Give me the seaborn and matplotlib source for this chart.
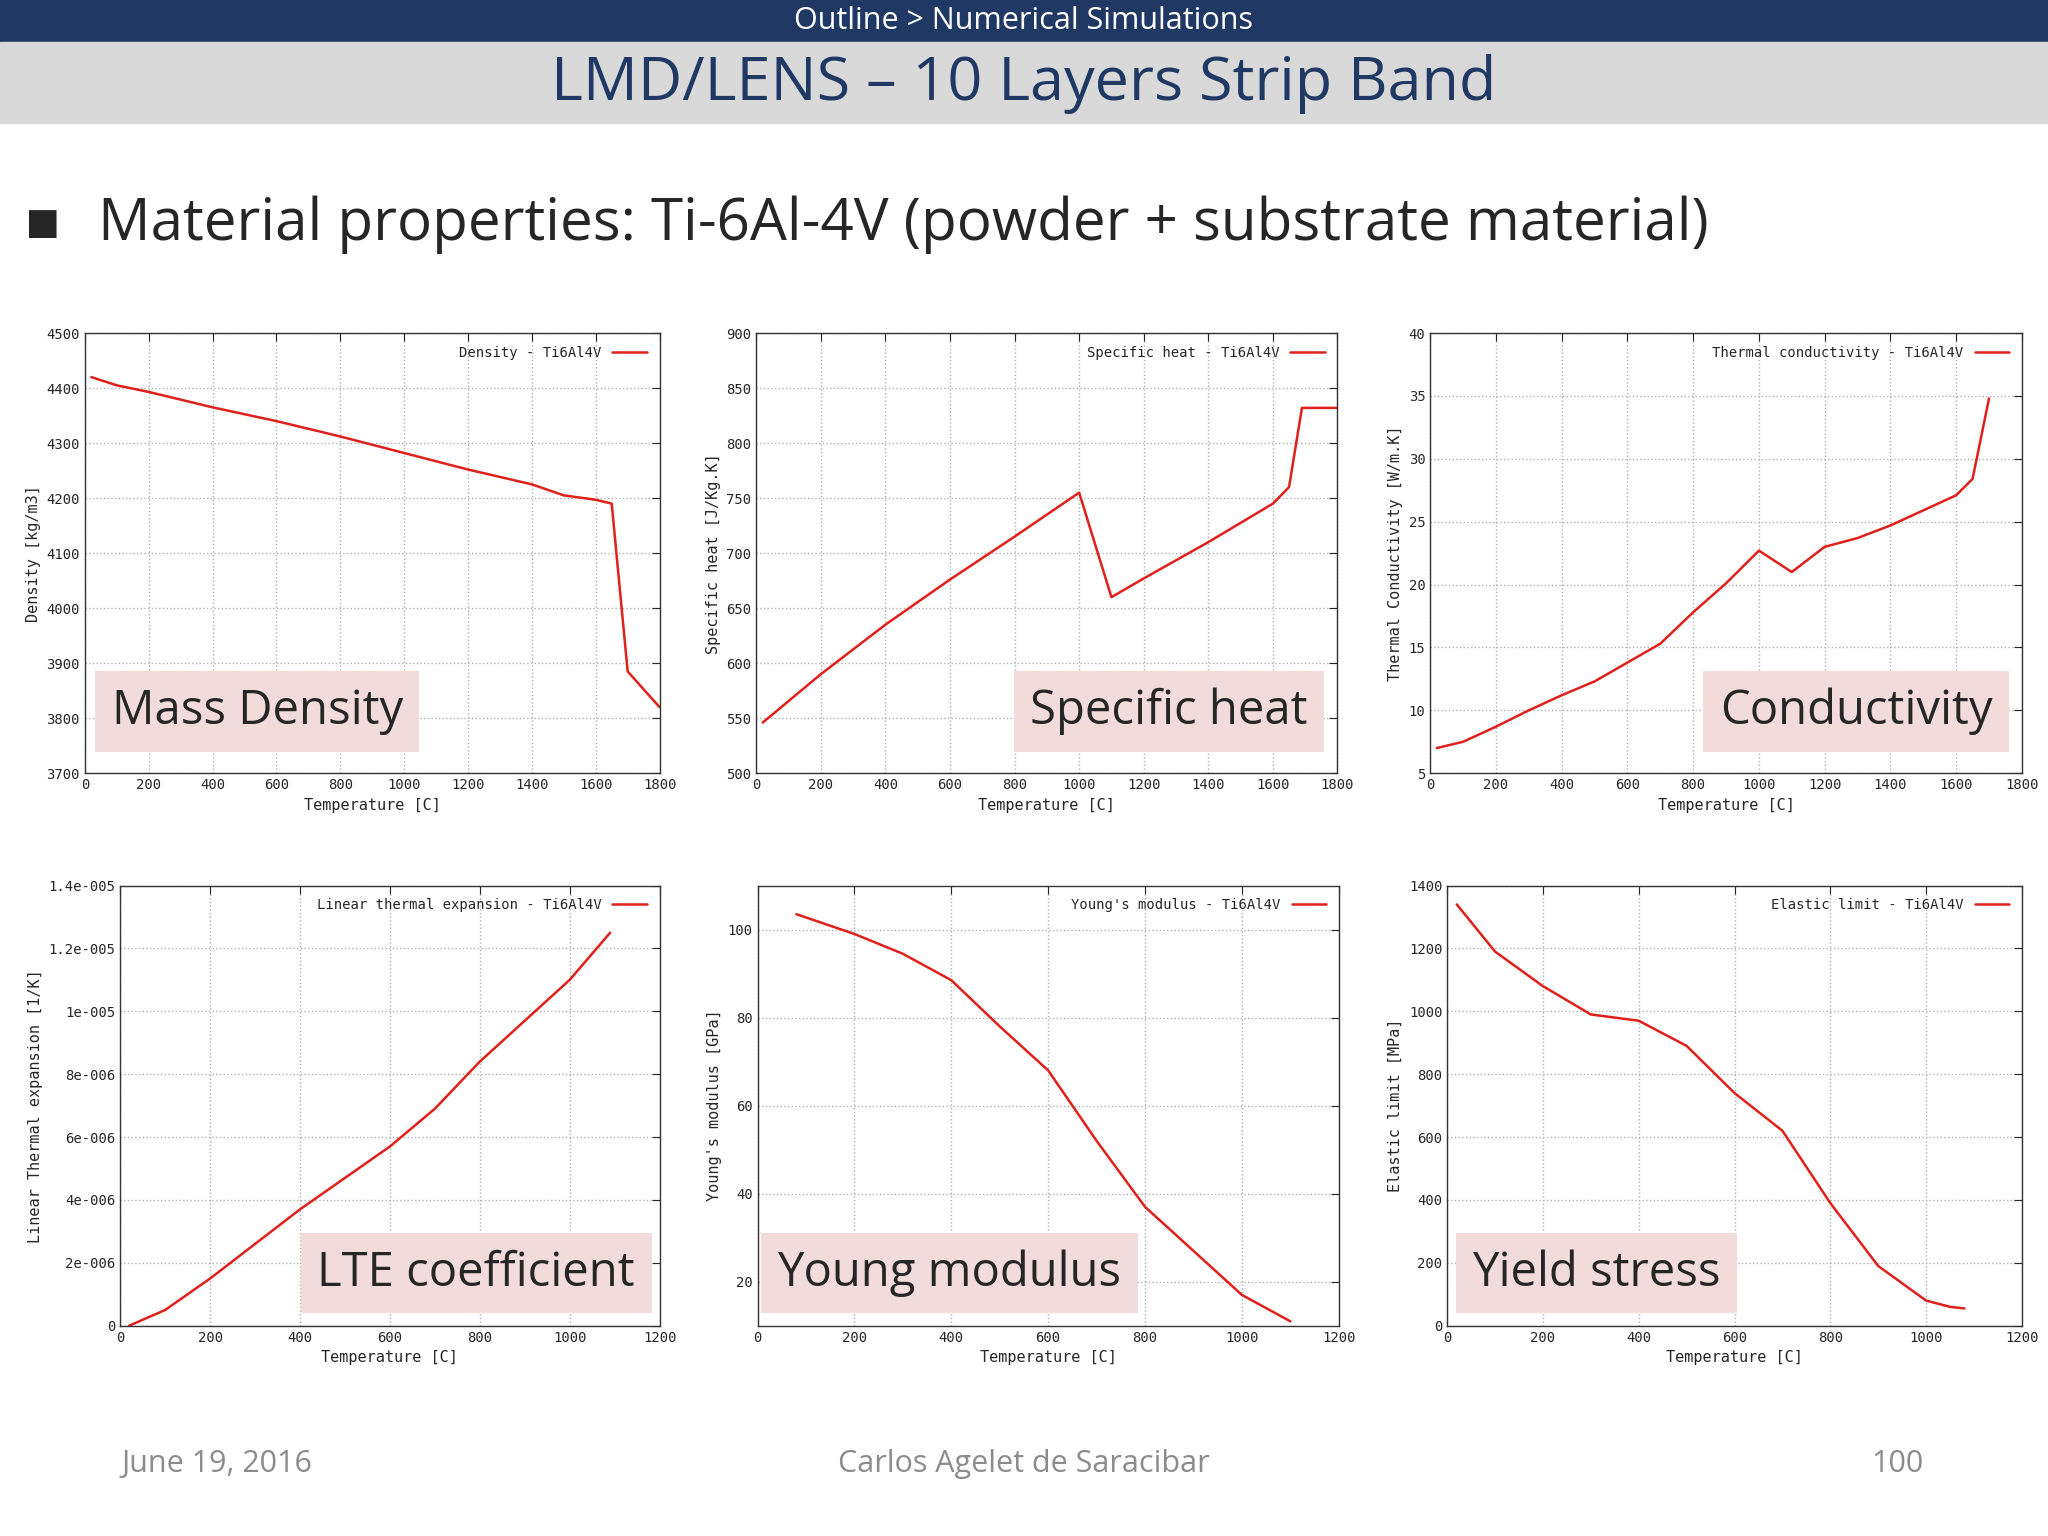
import matplotlib
matplotlib.use("Agg")
import matplotlib.pyplot as plt
import seaborn as sns
import pandas as pd
from matplotlib.patches import Rectangle

# data
dens_t = [20, 100, 200, 400, 600, 800, 1000, 1200, 1400, 1500, 1600, 1650, 1700, 1800]
dens_v = [4420, 4405, 4393, 4365, 4340, 4312, 4282, 4252, 4225, 4205, 4197, 4190, 3885, 3820]

cp_t = [20, 200, 400, 600, 800, 1000, 1100, 1200, 1400, 1600, 1650, 1690, 1800]
cp_v = [546, 590, 635, 676, 715, 755, 660, 677, 710, 745, 760, 832, 832]

k_t = [20, 100, 200, 300, 400, 500, 600, 700, 800, 900, 1000, 1100, 1200, 1300, 1400, 1500, 1600, 1650, 1700]
k_v = [7, 7.5, 8.7, 10, 11.2, 12.3, 13.8, 15.3, 17.8, 20.1, 22.7, 21, 23, 23.7, 24.7, 25.9, 27.1, 28.4, 34.8]

lte_t = [20, 100, 200, 300, 400, 500, 600, 700, 800, 900, 1000, 1090]
lte_v = [0, 0.5e-6, 1.5e-6, 2.6e-6, 3.7e-6, 4.7e-6, 5.7e-6, 6.9e-6, 8.4e-6, 9.7e-6, 11e-6, 12.5e-6]

e_t = [80, 200, 300, 400, 500, 600, 700, 800, 900, 1000, 1100]
e_v = [103.5, 99, 94.5, 88.5, 78, 68, 52, 37, 27, 17, 11]

ys_t = [20, 100, 200, 300, 400, 500, 600, 700, 800, 900, 1000, 1050, 1080]
ys_v = [1340, 1190, 1080, 990, 970, 890, 740, 620, 390, 190, 80, 60, 55]

W, H = 1568, 1176  # layout measured on reference scale


def box(x0, y0, x1, y1):
    return [x0 / W, 1 - y1 / H, (x1 - x0) / W, (y1 - y0) / H]


panels = [
    dict(t=dens_t, v=dens_v, pos=box(65, 255, 505, 592), xlim=(0, 1800), ylim=(3700, 4500),
         xt=range(0, 1801, 200), yt=range(3700, 4501, 100), ylab="Density [kg/m3]",
         leg="Density - Ti6Al4V", tag="Mass Density", tp=(0.30, 0.14)),
    dict(t=cp_t, v=cp_v, pos=box(579, 255, 1024, 592), xlim=(0, 1800), ylim=(500, 900),
         xt=range(0, 1801, 200), yt=range(500, 901, 50), ylab="Specific heat [J/Kg.K]",
         leg="Specific heat - Ti6Al4V", tag="Specific heat", tp=(0.71, 0.14)),
    dict(t=k_t, v=k_v, pos=box(1095, 255, 1548, 592), xlim=(0, 1800), ylim=(5, 40),
         xt=range(0, 1801, 200), yt=range(5, 41, 5), ylab="Thermal Conductivity [W/m.K]",
         leg="Thermal conductivity - Ti6Al4V", tag="Conductivity", tp=(0.72, 0.14)),
    dict(t=lte_t, v=lte_v, pos=box(92, 678, 505, 1015), xlim=(0, 1200), ylim=(0, 1.4e-5),
         xt=range(0, 1201, 200), yt=[i * 2e-6 for i in range(8)],
         ytl=["0", "2e-006", "4e-006", "6e-006", "8e-006", "1e-005", "1.2e-005", "1.4e-005"],
         ylab="Linear Thermal expansion [1/K]",
         leg="Linear thermal expansion - Ti6Al4V", tag="LTE coefficient", tp=(0.66, 0.12)),
    dict(t=e_t, v=e_v, pos=box(580, 678, 1025, 1015), xlim=(0, 1200), ylim=(10, 110),
         xt=range(0, 1201, 200), yt=range(20, 101, 20), ylab="Young's modulus [GPa]",
         leg="Young's modulus - Ti6Al4V", tag="Young modulus", tp=(0.33, 0.12)),
    dict(t=ys_t, v=ys_v, pos=box(1108, 678, 1548, 1015), xlim=(0, 1200), ylim=(0, 1400),
         xt=range(0, 1201, 200), yt=range(0, 1401, 200), ylab="Elastic limit [MPa]",
         leg="Elastic limit - Ti6Al4V", tag="Yield stress", tp=(0.26, 0.12)),
]

sns.set_style("white")
plt.rcParams["font.family"] = ["Open Sans", "DejaVu Sans"]
mono = "DejaVu Sans Mono"

fig = plt.figure(figsize=(20.48, 15.36), dpi=100)
fig.patches.append(Rectangle((0, 1 - 32 / H), 1, 32 / H, transform=fig.transFigure, color="#1F3864"))
fig.patches.append(Rectangle((0, 1 - 94 / H), 1, 62 / H, transform=fig.transFigure, color="#D9D9D9"))
fig.text(0.5, 1 - 16 / H, "Outline > Numerical Simulations", color="white", fontsize=22, ha="center", va="center")
fig.text(0.5, 1 - 64 / H, "LMD/LENS \u2013 10 Layers Strip Band", color="#1F3864", fontsize=44, ha="center", va="center")
fig.text(18 / W, 1 - 172 / H, "\u25aa", fontsize=40, va="center")
fig.text(75 / W, 1 - 172 / H, "Material properties: Ti-6Al-4V (powder + substrate material)", fontsize=42, va="center")

for p in panels:
    ax = fig.add_axes(p["pos"])
    df = pd.DataFrame({"T": p["t"], "v": p["v"]})
    sns.lineplot(data=df, x="T", y="v", ax=ax, color="#E0201B", linewidth=1.8, label=p["leg"])
    ax.set_xlim(*p["xlim"])
    ax.set_ylim(*p["ylim"])
    ax.set_xticks(list(p["xt"]))
    ax.set_yticks(list(p["yt"]))
    if "ytl" in p:
        ax.set_yticklabels(p["ytl"])
    for lab in ax.get_xticklabels() + ax.get_yticklabels():
        lab.set_fontfamily(mono)
        lab.set_fontsize(10)
    ax.tick_params(direction="in", length=6, top=True, right=True)
    ax.grid(True, color="#B0B0B0", linestyle=":", linewidth=1)
    for s in ax.spines.values():
        s.set_color("#333333")
        s.set_linewidth(1)
    ax.set_xlabel("Temperature [C]", fontfamily=mono, fontsize=11)
    ax.set_ylabel(p["ylab"], fontfamily=mono, fontsize=11)
    leg = ax.legend(loc="upper right", frameon=False, markerfirst=False,
                    prop={"family": mono, "size": 10}, handlelength=2.5)
    ax.text(p["tp"][0], p["tp"][1], p["tag"], transform=ax.transAxes, fontsize=34,
            ha="center", va="center",
            bbox=dict(boxstyle="square,pad=0.35", facecolor="#F2DCDB", edgecolor="none"))

fig.text(93 / W, 1 - 1121 / H, "June 19, 2016", color="#8C8C8C", fontsize=22, va="center")
fig.text(0.5, 1 - 1121 / H, "Carlos Agelet de Saracibar", color="#8C8C8C", fontsize=22, ha="center", va="center")
fig.text(1473 / W, 1 - 1121 / H, "100", color="#8C8C8C", fontsize=22, ha="right", va="center")

fig.savefig("out.png", dpi=100, facecolor="white")
